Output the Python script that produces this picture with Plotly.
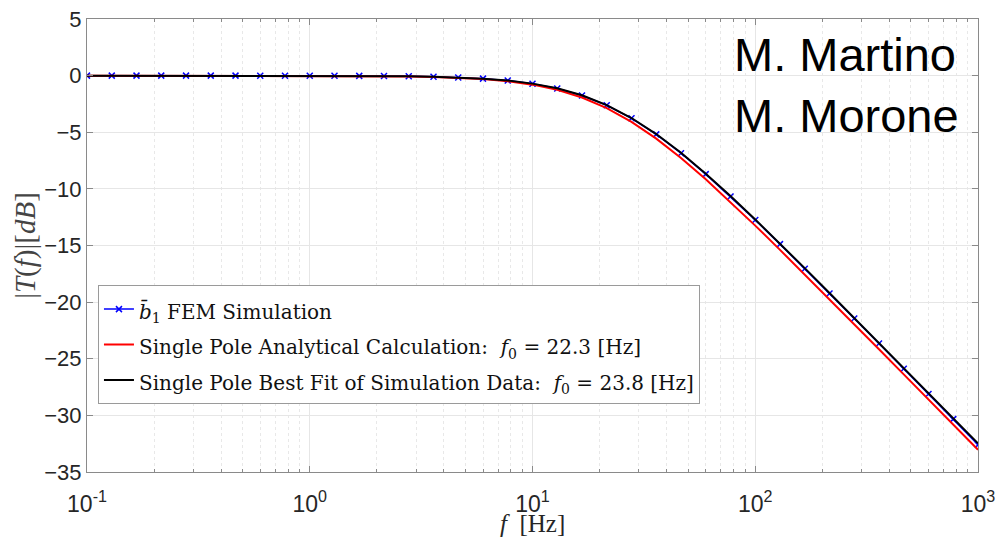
import plotly.graph_objects as go

# Frequencies of simulation samples [Hz]
freq = [0.1, 0.1292, 0.1668, 0.2154, 0.2783, 0.3594, 0.4642, 0.5995, 0.7743,
        1.0, 1.2915, 1.6681, 2.1544, 2.7826, 3.5938, 4.6416, 5.9948, 7.7426,
        10.0, 12.915, 16.681, 21.544, 27.826, 35.938, 46.416, 59.948, 77.426,
        100.0, 129.15, 166.81, 215.44, 278.26, 359.38, 464.16, 599.48, 774.26, 1000.0]

# FEM simulation |T(f)| [dB]
fem_db = [0.0, 0.0, 0.0, 0.0, 0.0, 0.0, 0.0, -0.003, -0.005,
          -0.008, -0.013, -0.021, -0.035, -0.059, -0.098, -0.162, -0.267, -0.437,
          -0.71, -1.13, -1.75, -2.62, -3.77, -5.19, -6.85, -8.70, -10.68,
          -12.75, -14.88, -17.05, -19.24, -21.45, -23.66, -25.88, -28.11, -30.33, -32.6]

# Single pole analytical calculation, f0 = 22.3 Hz
analytic_db = [0.0, 0.0, 0.0, 0.0, -0.001, -0.001, -0.002, -0.003, -0.005,
               -0.009, -0.015, -0.024, -0.040, -0.067, -0.111, -0.184, -0.303, -0.494,
               -0.796, -1.256, -1.930, -2.863, -4.077, -5.560, -7.269, -9.153, -11.158,
               -13.245, -15.383, -17.555, -19.747, -21.951, -24.162, -26.377, -28.593, -30.81, -33.03]

# Single pole best fit of simulation data, f0 = 23.8 Hz
fit_db = [0.0, 0.0, 0.0, 0.0, 0.0, -0.001, -0.002, -0.003, -0.005,
          -0.008, -0.013, -0.021, -0.035, -0.059, -0.098, -0.162, -0.267, -0.437,
          -0.706, -1.122, -1.735, -2.600, -3.741, -5.159, -6.815, -8.660, -10.637,
          -12.708, -14.836, -17.000, -19.188, -21.389, -23.60, -25.81, -28.03, -30.25, -32.47]

x_tickvals = [0.1, 1, 10, 100, 1000]
x_ticktext = ["10<sup>-1</sup>", "10<sup>0</sup>", "10<sup>1</sup>", "10<sup>2</sup>", "10<sup>3</sup>"]
minor_mult = [2, 3, 4, 5, 6, 7, 8, 9]
x_minorvals = [d * m for d in x_tickvals[:-1] for m in minor_mult]
y_tickvals = [5, 0, -5, -10, -15, -20, -25, -30, -35]

serif = "DejaVu Serif"
title_serif = "Liberation Serif"
sans = "Liberation Sans, Arial"


def legend_label(s):
    return '<span style="font-size:20px">' + s + '</span>'


fig = go.Figure()
fig.add_trace(go.Scatter(
    x=freq, y=fem_db, mode="lines+markers",
    name=legend_label("<i>b̄</i><sub>1</sub> FEM Simulation"),
    line=dict(color="#0000ff", width=1.5),
    marker=dict(symbol="x-thin", size=6, line=dict(color="#0000ff", width=1.5)),
))
fig.add_trace(go.Scatter(
    x=freq, y=analytic_db, mode="lines",
    name=legend_label("Single Pole Analytical Calculation:  <i>f</i><sub>0</sub> = 22.3 [Hz]"),
    line=dict(color="#ff0000", width=2),
))
fig.add_trace(go.Scatter(
    x=freq, y=fit_db, mode="lines",
    name=legend_label("Single Pole Best Fit of Simulation Data:  <i>f</i><sub>0</sub> = 23.8 [Hz]"),
    line=dict(color="#000000", width=2),
))

axis_color = "#8a8a8a"
fig.update_layout(
    width=998, height=540,
    margin=dict(l=87, r=20, t=19, b=68),
    paper_bgcolor="white", plot_bgcolor="white",
    showlegend=True,
    legend=dict(
        x=0.0123, y=0.412, xanchor="left", yanchor="top",
        bgcolor="white", bordercolor="#9a9a9a", borderwidth=1,
        font=dict(family=serif, size=25, color="#111111"),
        itemwidth=30,
    ),
    xaxis=dict(
        type="log", range=[-1, 3], automargin=False,
        tickvals=x_tickvals, ticktext=x_ticktext,
        ticks="inside", ticklen=6, tickcolor=axis_color,
        showline=True, linecolor=axis_color, linewidth=1, mirror="ticks",
        showgrid=True, gridcolor="#e6e6e6", gridwidth=1,
        minor=dict(tickvals=x_minorvals, ticks="inside", ticklen=3, tickcolor=axis_color,
                   showgrid=True, gridcolor="#e8e8e8", griddash="dot"),
        tickfont=dict(family=sans, size=23, color="#262626"),
        ticklabelstandoff=11,
        zeroline=False,
    ),
    yaxis=dict(
        range=[-35, 5], tickvals=y_tickvals, automargin=False,
        ticks="inside", ticklen=6, tickcolor=axis_color,
        showline=True, linecolor=axis_color, linewidth=1, mirror="ticks",
        showgrid=True, gridcolor="#e6e6e6", gridwidth=1,
        tickfont=dict(family=sans, size=22, color="#262626"),
        title=dict(text="|<i>T</i>(<i>f</i>)|[<i>dB</i>]", font=dict(family=title_serif, size=29, color="#444444"), standoff=0),
        zeroline=False,
    ),
    annotations=[
        dict(
            text="M. Martino<br>M. Morone", xref="paper", yref="paper",
            x=0.724, y=0.985, xanchor="left", yanchor="top", align="left", showarrow=False,
            font=dict(family=sans, size=47, color="black"),
        ),
        dict(
            text="<i>f</i>  [Hz]", xref="paper", yref="paper",
            x=0.5, y=-0.114, xanchor="center", yanchor="middle", showarrow=False,
            font=dict(family=title_serif, size=25, color="#262626"),
        ),
    ],
)

fig.write_html("out.html")
